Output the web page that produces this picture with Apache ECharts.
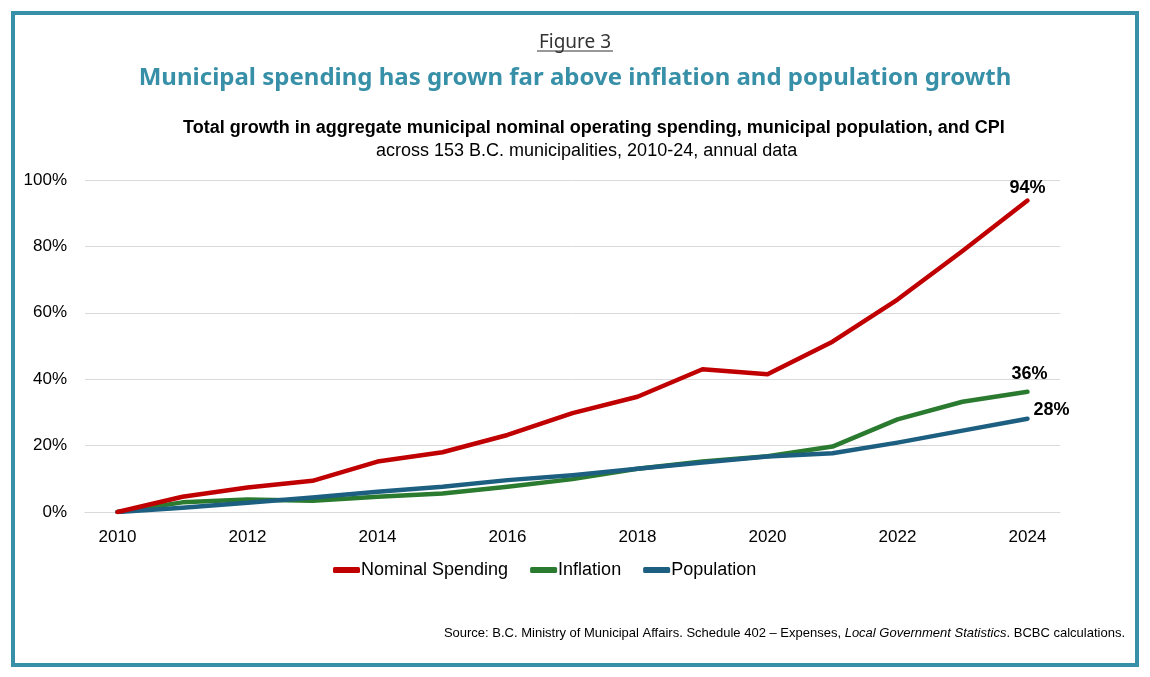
<!DOCTYPE html>
<html>
<head>
<meta charset="utf-8">
<title>Figure 3</title>
<script src="https://cdn.jsdelivr.net/npm/echarts@6/dist/echarts.min.js"></script>
<style>
  body { margin: 0; background: #fff; }
  #main { width: 1150px; height: 677px; }
</style>
</head>
<body>
<div id="main"></div>
<script type="text/javascript">
// data (% growth since 2010)
var years = ['2010', '2011', '2012', '2013', '2014', '2015', '2016', '2017',
             '2018', '2019', '2020', '2021', '2022', '2023', '2024'];
var spending   = [0, 4.6, 7.4, 9.4, 15.2, 18.0, 23.2, 29.8, 34.7, 43.0, 41.5, 51.3, 64.0, 78.6, 93.8];
var inflation  = [0, 2.9, 3.8, 3.4, 4.6, 5.6, 7.6, 9.9, 13.0, 15.2, 16.8, 19.7, 27.9, 33.2, 36.2];
var population = [0, 1.3, 2.8, 4.4, 6.1, 7.6, 9.6, 11.1, 13.0, 14.9, 16.7, 17.7, 20.9, 24.5, 28.1];
var yTicks = [0, 20, 40, 60, 80, 100];

var teal = '#3790a7';
var fontArial = '"Liberation Sans", Arial, sans-serif';

var myChart = echarts.init(document.getElementById('main'));

// label shown at the end of each line
function endLabel(opt) {
  return Object.assign({
    show: true,
    formatter: function (p) { return Math.round(p.value) + '%'; },
    color: '#000',
    fontFamily: fontArial,
    fontWeight: 'bold',
    fontSize: 18
  }, opt);
}

var option = {
  backgroundColor: '#fff',
  title: [
    {
      text: 'Figure 3',
      left: 'center', top: 28,
      textStyle: { fontFamily: '"Noto Sans", sans-serif', fontSize: 19, fontWeight: 'normal', color: '#333' }
    },
    {
      text: 'Municipal spending has grown far above inflation and population growth',
      left: 'center', top: 61,
      textStyle: { fontFamily: '"Noto Sans", sans-serif', fontSize: 24, fontWeight: 'bold', color: teal }
    },
    {
      text: 'Total growth in aggregate municipal nominal operating spending, municipal population, and CPI',
      left: 178, top: 114,
      textStyle: { fontFamily: fontArial, fontSize: 18, fontWeight: 'bold', color: '#000' }
    },
    {
      text: 'across 153 B.C. municipalities, 2010-24, annual data',
      left: 371, top: 137,
      textStyle: { fontFamily: fontArial, fontSize: 18, fontWeight: 'normal', color: '#000' }
    },
    {
      text: '{n|Source: B.C. Ministry of Municipal Affairs. Schedule 402 \u2013 Expenses, }{i|Local Government Statistics}{n|. BCBC calculations.}',
      right: 20, top: 622,
      textStyle: {
        fontWeight: 'normal',
        rich: {
          n: { fontFamily: fontArial, fontSize: 13, fontWeight: 'normal', color: '#000' },
          i: { fontFamily: fontArial, fontSize: 13, fontWeight: 'normal', color: '#000', fontStyle: 'italic' }
        }
      }
    }
  ],
  graphic: [
    {
      type: 'rect',
      shape: { x: 13, y: 13, width: 1124, height: 652 },
      style: { fill: 'none', stroke: teal, lineWidth: 4 }
    },
    {
      type: 'line',
      shape: { x1: 537, y1: 51, x2: 613, y2: 51 },
      style: { stroke: '#333', lineWidth: 1 }
    }
  ],
  legend: {
    top: 556,
    left: 328,
    icon: 'roundRect',
    itemWidth: 27,
    itemHeight: 6,
    itemGap: 22,
    textStyle: { fontFamily: fontArial, fontSize: 18, color: '#000', padding: [0, 0, 0, -4] },
    data: ['Nominal Spending', 'Inflation', 'Population']
  },
  grid: { left: 85, right: 90, top: 180, bottom: 165 },
  xAxis: {
    type: 'category',
    data: years,
    boundaryGap: true,
    axisLine: { show: true, lineStyle: { color: '#d9d9d9', width: 1 } },
    axisTick: { show: false },
    axisLabel: { interval: 1, margin: 17, fontFamily: fontArial, fontSize: 17, color: '#000' }
  },
  yAxis: {
    type: 'value',
    min: yTicks[0],
    max: yTicks[yTicks.length - 1],
    interval: 20,
    axisLine: { show: false },
    axisTick: { show: false },
    axisLabel: { formatter: '{value}%', margin: 18, fontFamily: fontArial, fontSize: 17, color: '#000' },
    splitLine: { lineStyle: { color: '#d9d9d9', width: 1 } }
  },
  series: [
    {
      name: 'Nominal Spending',
      type: 'line',
      data: spending,
      symbol: 'none',
      color: '#c00000',
      lineStyle: { width: 4.5, cap: 'round', join: 'round' },
      endLabel: endLabel({ distance: 0, align: 'center', verticalAlign: 'bottom', offset: [0, -4] }),
      z: 3
    },
    {
      name: 'Inflation',
      type: 'line',
      data: inflation,
      symbol: 'none',
      color: '#2a7a30',
      lineStyle: { width: 4.5, cap: 'round', join: 'round' },
      endLabel: endLabel({ distance: 0, align: 'center', verticalAlign: 'bottom', offset: [2, -9] }),
      z: 2
    },
    {
      name: 'Population',
      type: 'line',
      data: population,
      symbol: 'none',
      color: '#1d5f80',
      lineStyle: { width: 4.5, cap: 'round', join: 'round' },
      endLabel: endLabel({ distance: 6, align: 'left', verticalAlign: 'bottom', offset: [0, 0] }),
      z: 2
    }
  ]
};

myChart.setOption(option);
</script>
</body>
</html>
